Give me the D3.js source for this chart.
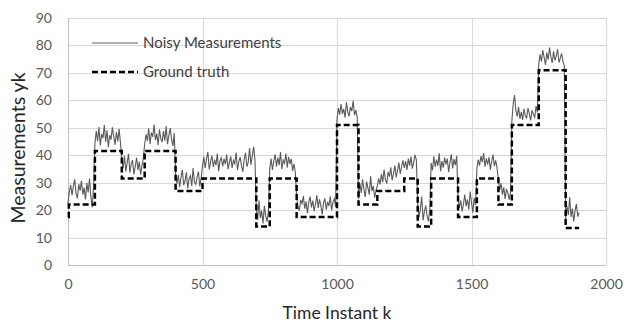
<!DOCTYPE html>
<html>
<head>
<meta charset="utf-8">
<script src="https://cdn.jsdelivr.net/npm/d3@7"></script>
<style>
  body { margin: 0; background: #fff; }
  text { font-family: Lato, "Open Sans", sans-serif; }
</style>
</head>
<body>
<svg id="chart"></svg>
<script>
// ground truth: level changes at these k values (step after)
var truthK = [0, 3, 100, 200, 285, 400, 500, 700, 750, 850, 1000, 1080, 1150, 1250, 1300, 1350, 1450, 1520, 1600, 1650, 1750, 1850, 1900]
var truthLevel = [17.5, 22, 41.5, 31.5, 41.5, 27, 31.5, 14, 31.5, 17.5, 51, 22, 27, 31.5, 14, 31.5, 17.5, 31.5, 22, 51, 71, 13.5, 13.5]

// noisy measurements, one reading every 5 time instants (k = 0..1900)
var noisyStep = 5
var noisy = [
  22.5, 26.8, 29.1, 25.4, 28.7, 31.2, 26.0, 24.3, 29.5, 27.1, 30.8, 25.6, 28.2, 23.9, 29.9, 26.4, 31.5, 24.8, 21.0, 28.6,
  44.2, 48.9, 45.1, 50.3, 43.6, 47.8, 46.2, 51.0, 44.8, 49.1, 42.9, 47.3, 45.7, 50.2, 46.9, 43.8, 48.4, 45.0, 49.6, 44.5,
  38.6, 35.2, 39.8, 34.1, 37.3, 40.5, 33.6, 36.8, 38.2, 33.0, 35.9, 39.1, 34.6, 37.7, 32.9, 36.3, 38.9,
  43.9, 47.6, 45.2, 49.8, 44.1, 48.3, 46.7, 51.2, 45.5, 47.9, 43.7, 49.4, 46.1, 44.8, 48.8, 45.3, 50.6, 44.0, 47.2, 49.9, 45.8, 43.4, 48.1,
  33.4, 29.6, 32.8, 28.4, 31.9, 34.7, 29.1, 30.6, 33.8, 27.9, 31.4, 32.6, 28.8, 35.3, 30.2, 29.4, 32.1, 34.0, 28.6, 31.7,
  36.1, 39.4, 35.3, 38.7, 41.2, 34.8, 37.6, 39.9, 35.7, 38.3, 36.4, 40.6, 34.2, 37.9, 39.1, 35.9, 38.8, 36.7, 40.2, 34.9,
  37.3, 39.6, 35.4, 38.1, 36.9, 41.0, 34.6, 37.8, 39.3, 36.2, 33.9, 38.5, 40.9, 35.8, 37.4, 42.6, 36.5, 39.7, 43.1, 38.4,
  20.3, 16.4, 23.5, 17.2, 19.8, 15.1, 21.6, 17.9, 15.8, 19.4,
  35.2, 38.8, 34.6, 37.9, 40.3, 35.8, 39.1, 36.4, 41.2, 34.9, 38.2, 37.1, 40.6, 35.5, 39.4, 36.8, 38.7, 34.3, 36.9, 33.8,
  24.6, 21.3, 19.8, 23.7, 22.4, 25.1, 20.5, 23.2, 18.9, 22.8, 24.9, 21.0, 23.5, 19.6, 22.1, 25.4, 20.8, 23.9, 21.6, 18.4,
  22.7, 24.3, 20.2, 23.0, 21.5, 25.0, 19.9, 22.9, 24.1, 21.2,
  53.4, 57.2, 54.8, 58.6, 55.1, 56.9, 53.7, 59.3, 55.8, 54.2, 57.5, 56.1, 59.8, 54.6, 56.4, 53.9,
  24.1, 29.8, 26.3, 31.2, 27.5, 24.8, 30.4, 28.1, 25.6, 32.3, 26.9, 28.8, 24.5, 27.2,
  28.9, 31.6, 29.4, 33.1, 30.2, 34.8, 31.1, 29.7, 33.9, 32.2, 35.6, 30.8, 33.4, 36.2, 31.9, 34.5, 37.3, 33.2, 35.8, 38.1,
  35.4, 37.9, 34.6, 38.8, 36.2, 39.5, 35.1, 37.4, 40.1, 38.3,
  22.8, 17.4, 20.6, 24.9, 16.2, 19.5, 21.7, 17.8, 15.9, 20.3,
  37.2, 34.5, 39.6, 35.8, 38.4, 36.1, 40.7, 34.2, 37.9, 35.5, 39.1, 36.7, 38.8, 33.9, 37.4, 40.3, 35.2, 38.6, 36.4, 39.8,
  24.2, 20.8, 23.6, 19.5, 22.1, 25.7, 21.4, 23.9, 20.2, 26.8, 22.7, 19.1, 24.5, 21.8,
  35.1, 38.4, 36.2, 39.7, 37.5, 40.8, 35.8, 38.9, 36.6, 39.3, 34.7, 37.8, 40.2, 36.0, 38.1, 35.4,
  30.9, 27.4, 29.8, 25.6, 28.3, 24.1, 27.7, 26.2, 23.8, 26.5,
  52.4, 58.7, 61.9, 56.3, 54.1, 57.6, 53.2, 55.8, 52.9, 56.9, 54.4, 53.6, 57.2, 55.1, 52.7, 56.4, 54.9, 53.8, 57.9, 55.6,
  73.2, 76.8, 74.1, 78.3, 75.6, 72.9, 77.4, 74.8, 79.2, 75.9, 73.6, 77.9, 74.5, 76.2, 78.6, 73.8, 75.3, 77.1, 74.2, 72.6,
  16.8, 21.4, 18.2, 24.7, 17.5, 20.6, 15.9, 19.8, 22.3, 17.6, 19.1
]

var xTicks = [0, 500, 1000, 1500, 2000]
var yTicks = [0, 10, 20, 30, 40, 50, 60, 70, 80, 90]
var seriesNames = ["Noisy Measurements", "Ground truth"]

var screen = {width: 624, height: 322}
var margins = {top: 18, bottom: 57, left: 68, right: 18}
var graph = {
    width: screen.width - margins.left - margins.right,
    height: screen.height - margins.top - margins.bottom
}

var svg = d3.select("#chart")
    .attr("width", screen.width)
    .attr("height", screen.height)

svg.append("rect")
    .attr("width", screen.width)
    .attr("height", screen.height)
    .attr("fill", "#fff")

var xScale = d3.scaleLinear()
    .domain([0, 2000])
    .range([0, graph.width])

var yScale = d3.scaleLinear()
    .domain([0, 90])
    .range([graph.height, 0])

var g = svg.append("g")
    .attr("transform", "translate(" + margins.left + "," + margins.top + ")")

// gridlines
g.append("g")
    .selectAll("line")
    .data(yTicks.slice(1))
    .enter()
    .append("line")
    .attr("x1", 0)
    .attr("x2", graph.width)
    .attr("y1", function(d) { return Math.round(yScale(d)) + 0.5 })
    .attr("y2", function(d) { return Math.round(yScale(d)) + 0.5 })
    .attr("stroke", "#d9d9d9")

g.append("g")
    .selectAll("line")
    .data(xTicks.slice(1))
    .enter()
    .append("line")
    .attr("x1", function(d) { return Math.round(xScale(d)) + 0.5 })
    .attr("x2", function(d) { return Math.round(xScale(d)) + 0.5 })
    .attr("y1", 0)
    .attr("y2", graph.height)
    .attr("stroke", "#d9d9d9")

// axes
var xAxis = d3.axisBottom(xScale).tickValues(xTicks).tickFormat(d3.format("d")).tickSize(0).tickPadding(14)
var yAxis = d3.axisLeft(yScale).tickValues(yTicks).tickSize(0).tickPadding(16)

var xg = g.append("g")
    .attr("transform", "translate(0," + graph.height + ")")
    .call(xAxis)
xg.select(".domain").attr("stroke", "#bfbfbf").attr("d", "M0,0.5H" + graph.width)
xg.selectAll("text").attr("fill", "#595959").style("font-size", "14px")

var yg = g.append("g").call(yAxis)
yg.select(".domain").attr("stroke", "#bfbfbf").attr("d", "M0.5,0V" + graph.height)
yg.selectAll("text").attr("fill", "#595959").style("font-size", "14px")

// lines
var noisyLine = d3.line()
    .x(function(d, i) { return xScale(i * noisyStep) })
    .y(function(d) { return yScale(d) })

g.append("path")
    .datum(noisy)
    .attr("d", noisyLine)
    .attr("fill", "none")
    .attr("stroke", "#5a5a5a")
    .attr("stroke-width", 1.1)

var truthLine = d3.line()
    .curve(d3.curveStepAfter)
    .x(function(d, i) { return xScale(truthK[i]) })
    .y(function(d) { return yScale(d) })

g.append("path")
    .datum(truthLevel)
    .attr("d", truthLine)
    .attr("fill", "none")
    .attr("stroke", "#000")
    .attr("stroke-width", 2.5)
    .attr("stroke-dasharray", "6,3")

// legend
var legend = svg.append("g").attr("transform", "translate(92,43)")
var items = legend.selectAll("g")
    .data(seriesNames)
    .enter()
    .append("g")
    .attr("transform", function(d, i) { return "translate(0," + (i * 29) + ")" })

items.append("line")
    .attr("x1", 0)
    .attr("x2", 46)
    .attr("stroke", function(d, i) { return i == 0 ? "#5a5a5a" : "#000" })
    .attr("stroke-width", function(d, i) { return i == 0 ? 1 : 2.5 })
    .attr("stroke-dasharray", function(d, i) { return i == 0 ? null : "6,3" })

items.append("text")
    .text(function(d) { return d })
    .attr("x", 51)
    .attr("y", 5)
    .attr("fill", "#404040")
    .style("font-size", "15px")

// axis titles
svg.append("text")
    .text("Time Instant k")
    .attr("text-anchor", "middle")
    .attr("x", 337)
    .attr("y", 319)
    .attr("fill", "#262626")
    .style("font-size", "17.5px")

svg.append("text")
    .text("Measurements yk")
    .attr("text-anchor", "middle")
    .attr("transform", "translate(25,148) rotate(-90)")
    .attr("fill", "#262626")
    .style("font-size", "19.5px")
</script>
</body>
</html>
